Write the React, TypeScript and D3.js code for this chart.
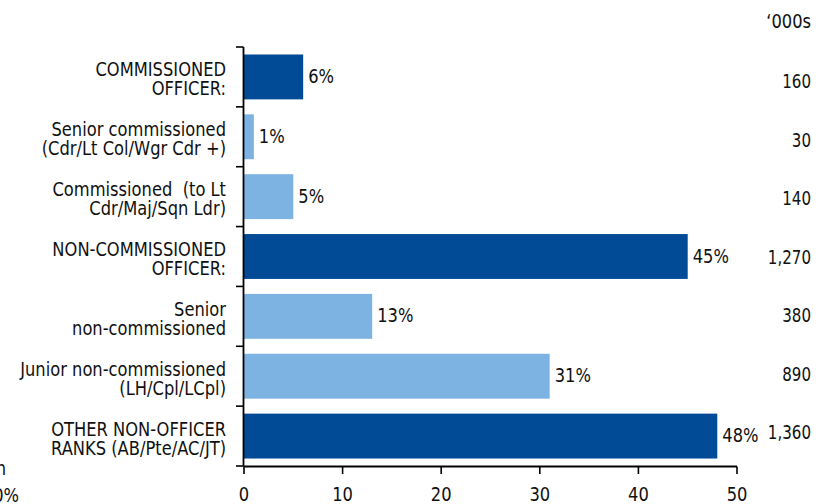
import React from "react";
import * as d3 from "d3";

const labels: string[][] = [
  ["COMMISSIONED", "OFFICER:"],
  ["Senior commissioned", "(Cdr/Lt Col/Wgr Cdr +)"],
  ["Commissioned  (to Lt", "Cdr/Maj/Sqn Ldr)"],
  ["NON-COMMISSIONED", "OFFICER:"],
  ["Senior", "non-commissioned"],
  ["Junior non-commissioned", "(LH/Cpl/LCpl)"],
  ["OTHER NON-OFFICER", "RANKS (AB/Pte/AC/JT)"],
];
const values = [6, 1, 5, 45, 13, 31, 48];
const totals = ["160", "30", "140", "1,270", "380", "890", "1,360"];
const isGroup = [true, false, false, true, false, false, true];
const xTicks = [0, 10, 20, 30, 40, 50];

const W = 833, H = 504;
const FONT = "'DejaVu Sans Condensed', 'Liberation Sans Narrow', Roboto, sans-serif";
const DARK = "#004a96";
const LIGHT = "#7db3e2";
const FS = 19.5;
const SX = 0.93;

function T({ x, y, anchor = "start", sx = SX, children }: { x: number; y: number; anchor?: string; sx?: number; children: React.ReactNode }) {
  return (
    <g transform={`translate(${x},${y}) scale(${sx},1)`}>
      <text x={0} y={0} textAnchor={anchor} fontSize={FS} fill="#111" style={{ whiteSpace: "pre" }}>{children}</text>
    </g>
  );
}

export default function App() {
  const x = d3.scaleLinear().domain([0, 50]).range([244, 737]);
  const idx = d3.range(values.length);
  const top = 47, bottom = 466;
  const y = d3.scaleBand<number>().domain(idx).range([top, bottom]).paddingInner(0.25).paddingOuter(0.125);
  const step = y.step();
  const yTot = d3.scalePoint<number>().domain(idx).range([88, 439]);
  return (
    <svg width={W} height={H} style={{ position: "absolute", left: 0, top: 0, fontFamily: FONT }}>
      <rect width={W} height={H} fill="#fff" />
      {idx.map((i) => (
        <rect key={"b" + i} x={x(0)} y={y(i)!} width={x(values[i]) - x(0)} height={y.bandwidth()} fill={isGroup[i] ? DARK : LIGHT} />
      ))}
      {/* y axis */}
      <line x1={243.5} x2={243.5} y1={top} y2={bottom} stroke="#000" strokeWidth={1.8} />
      {d3.range(values.length + 1).map((k) => (
        <line key={"yt" + k} x1={236} x2={243.5} y1={top + k * step} y2={top + k * step} stroke="#000" strokeWidth={1.6} />
      ))}
      {/* x axis */}
      <line x1={243.5} x2={737} y1={466.5} y2={466.5} stroke="#000" strokeWidth={1.8} />
      {xTicks.map((t) => (
        <g key={"xt" + t}>
          <line x1={x(t)} x2={x(t)} y1={466.5} y2={474} stroke="#000" strokeWidth={1.6} />
          <T x={x(t)} y={501} anchor="middle">{t}</T>
        </g>
      ))}
      {/* category labels */}
      {idx.map((i) => {
        const c = y(i)! + y.bandwidth() / 2;
        return (
          <g key={"l" + i} transform={`translate(226,${c - 0.5}) scale(${SX},1)`}>
            <text textAnchor="end" fontSize={FS} fill="#111" style={{ whiteSpace: "pre" }}>
              <tspan x={0} y={0}>{labels[i][0]}</tspan>
              <tspan x={0} y={19}>{labels[i][1]}</tspan>
            </text>
          </g>
        );
      })}
      {/* value labels */}
      {idx.map((i) => (
        <T key={"v" + i} x={x(values[i]) + 5} y={y(i)! + y.bandwidth() / 2 + 6}>{values[i]}%</T>
      ))}
      {/* totals */}
      {idx.map((i) => (
        <T key={"t" + i} x={811} y={yTot(i)!} anchor="end" sx={0.86}>{totals[i]}</T>
      ))}
      <T x={811} y={28} anchor="end">‘000s</T>
      <T x={6} y={475} anchor="end">n</T>
      <T x={19} y={502} anchor="end">0%</T>
    </svg>
  );
}
